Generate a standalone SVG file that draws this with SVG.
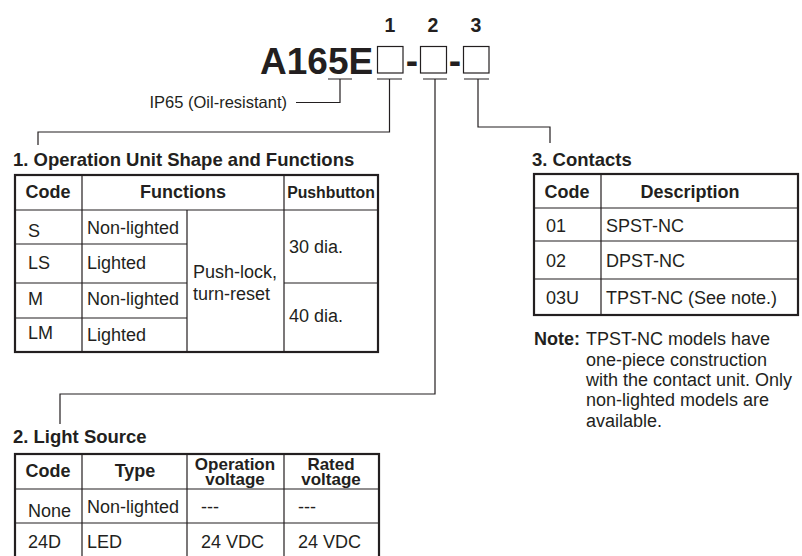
<svg xmlns="http://www.w3.org/2000/svg" width="802" height="556" viewBox="0 0 802 556">
<style>
text{font-family:"Liberation Sans",Arial,sans-serif;fill:#231f20}
.b{font-weight:bold}
.h{font-size:18px;font-weight:bold}
.t{font-size:18px}
.ti{font-size:18.5px;font-weight:bold}
.m{text-anchor:middle}
.out{fill:none;stroke:#231f20;stroke-width:2.2}
.in{fill:none;stroke:#231f20;stroke-width:1.2}
.ln{fill:none;stroke:#231f20;stroke-width:1.2}
.box{fill:#fff;stroke:#231f20;stroke-width:1.2}
</style>
<rect width="802" height="556" fill="#fff"/>
<g id="partnumber">
<text class="b m" x="390" y="32" style="font-size:19.5px">1</text>
<text class="b m" x="433" y="32" style="font-size:19.5px">2</text>
<text class="b m" x="476" y="32" style="font-size:19.5px">3</text>
<text class="b" x="260" y="74" style="font-size:37px">A165E</text>
<rect class="box" x="377.5" y="46.5" width="25.5" height="26.5"/>
<text class="b m" x="412" y="73" style="font-size:37px">-</text>
<rect class="box" x="420.5" y="46.5" width="26" height="26.5"/>
<text class="b m" x="455" y="73" style="font-size:37px">-</text>
<rect class="box" x="463.5" y="46.5" width="25.5" height="26.5"/>
<text x="287" y="108" text-anchor="end" style="font-size:16.5px">IP65 (Oil-resistant)</text>
</g>
<g id="connectors">
<path class="ln" d="M328 79H352M340 79V102.5H296"/>
<path class="ln" d="M377 79H402M389.5 79V132H38V145"/>
<path class="ln" d="M423 79H447M435 79V394H60V424"/>
<path class="ln" d="M464 79H489M478 79V127H550V143"/>
</g>
<g id="table1">
<text class="ti" x="13" y="166">1. Operation Unit Shape and Functions</text>
<path class="in" d="M15 210H378M82 175V352M187 210V352M284 175V352M15 244H187M15 283H187M284 283H378M15 318H187"/>
<rect class="out" x="15" y="175" width="363" height="177"/>
<text class="h m" x="48" y="198">Code</text>
<text class="h m" x="183" y="198">Functions</text>
<text class="b m" x="331" y="198" style="font-size:15.8px">Pushbutton</text>
<text class="t" x="28" y="237">S</text>
<text class="t" x="87" y="234">Non-lighted</text>
<text class="t" x="28" y="269">LS</text>
<text class="t" x="87" y="269">Lighted</text>
<text class="t" x="28" y="305">M</text>
<text class="t" x="87" y="305">Non-lighted</text>
<text class="t" x="28" y="339">LM</text>
<text class="t" x="87" y="341">Lighted</text>
<text class="t" x="193" y="278">Push-lock,</text>
<text class="t" x="193" y="300">turn-reset</text>
<text class="t" x="289" y="253">30 dia.</text>
<text class="t" x="289" y="322">40 dia.</text>
</g>
<g id="table3">
<text class="ti" x="532" y="166">3. Contacts</text>
<path class="in" d="M534 208H798M601 174V315M534 241H798M534 279H798"/>
<rect class="out" x="534" y="174" width="264" height="141"/>
<text class="h m" x="567" y="198">Code</text>
<text class="h m" x="690" y="198">Description</text>
<text class="t" x="546" y="232">01</text>
<text class="t" x="606" y="232">SPST-NC</text>
<text class="t" x="546" y="267">02</text>
<text class="t" x="606" y="267">DPST-NC</text>
<text class="t" x="546" y="304">03U</text>
<text class="t" x="606" y="304">TPST-NC (See note.)</text>
</g>
<g id="note">
<text class="h" x="534" y="345">Note:</text>
<text class="t" x="586" y="345">TPST-NC models have</text>
<text class="t" x="586" y="366">one-piece construction</text>
<text class="t" x="586" y="386">with the contact unit. Only</text>
<text class="t" x="586" y="406">non-lighted models are</text>
<text class="t" x="586" y="427">available.</text>
</g>
<g id="table2">
<text class="ti" x="13" y="443">2. Light Source</text>
<path class="in" d="M15 489H379M82 454V570M187 454V570M284 454V570M15 523H379"/>
<rect class="out" x="15" y="454" width="364" height="120"/>
<text class="h m" x="48" y="477">Code</text>
<text class="h m" x="135" y="477">Type</text>
<text class="b m" x="235" y="470" style="font-size:17px">Operation</text>
<text class="b m" x="235" y="485" style="font-size:17px">voltage</text>
<text class="b m" x="331" y="470" style="font-size:17px">Rated</text>
<text class="b m" x="331" y="485" style="font-size:17px">voltage</text>
<text class="t" x="28" y="517">None</text>
<text class="t" x="87" y="513">Non-lighted</text>
<text class="t" x="201" y="513">---</text>
<text class="t" x="298" y="513">---</text>
<text class="t" x="28" y="548">24D</text>
<text class="t" x="87" y="548">LED</text>
<text class="t" x="201" y="548">24 VDC</text>
<text class="t" x="298" y="548">24 VDC</text>
</g>
</svg>
